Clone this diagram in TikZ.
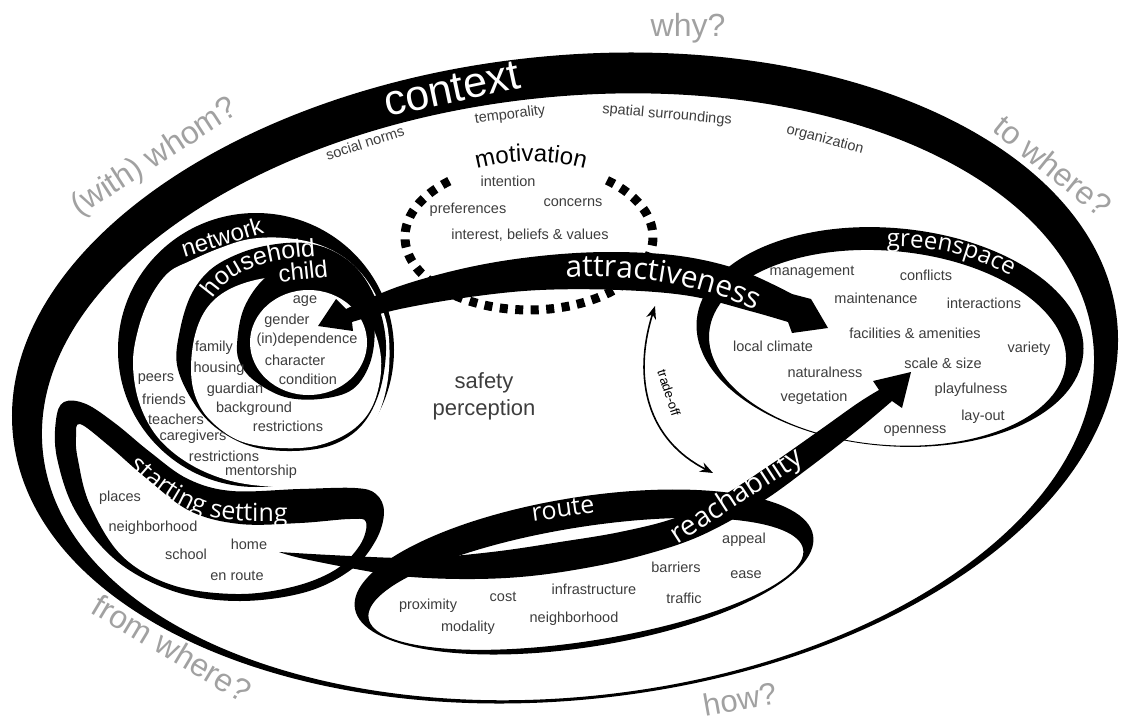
\documentclass[tikz,border=0pt]{standalone}
\usepackage{fontspec}
\setmainfont{Liberation Sans}
\newfontfamily\bandfont{Open Sans}
\usetikzlibrary{decorations.text,arrows.meta}
\tikzset{
  lbl/.style={font=\fontsize{14.5}{17}\selectfont, text=black!76, inner sep=0pt},
  qlbl/.style={font=\fontsize{32}{35}\selectfont, text=black!37, inner sep=0pt},
  wlbl/.style={text=white, inner sep=0pt},
  dotline/.style={line width=9pt, dash pattern=on 8pt off 7.5pt},
  tradearrow/.style={line width=1.6pt, {Stealth[length=13pt,width=10pt]}-{Stealth[length=13pt,width=10pt]}},
}
\begin{document}
\begin{tikzpicture}[x=1pt,y=-1pt]
\useasboundingbox (0,0) rectangle (1121,725);
% context ring
\fill[even odd rule, rotate around={6:(565,378)}] (565,378) ellipse [x radius=555, y radius=322] (566,397) ellipse [x radius=528, y radius=300];
% motivation (dotted), split so that every visible end begins with a dot
\draw[dotline] (607.0,180.3) arc[start angle=309, end angle=385, x radius=124, y radius=73];
\draw[dotline] (449.3,181.1) arc[start angle=230, end angle=135, x radius=124, y radius=73];
\draw[dotline] (441.3,288.6) arc[start angle=135, end angle=25, x radius=124, y radius=73];
% network / household / child
\fill (256,350) ellipse [x radius=138, y radius=137];
\fill[white] plot[smooth cycle, tension=0.6] coordinates {(133,365) (138,330) (150,298) (168,273) (190,261) (220,248) (250,239) (285,238) (320,245) (350,262) (373,290) (388,330) (387,385) (370,430) (335,467) (290,485) (240,483) (195,467) (160,440) (140,405)};
\fill plot[smooth cycle, tension=0.6] coordinates {(177,365) (180,330) (191,295) (210,270) (238,254) (270,245) (305,243) (335,252) (360,272) (378,305) (386,345) (380,390) (362,425) (332,445) (292,451) (250,446) (215,427) (192,400)};
\fill[white] plot[smooth cycle, tension=0.6] coordinates {(191,370) (195,335) (207,308) (228,290) (260,279) (300,276) (340,288) (368,318) (381,358) (375,400) (355,428) (320,445) (280,448) (240,441) (211,421) (196,398)};
\fill plot[smooth cycle, tension=0.6] coordinates {(237,345) (244,308) (266,277) (300,259) (336,262) (362,284) (374,320) (371,360) (353,389) (320,399) (285,397) (256,382) (241,365)};
\fill[white] (308.5,342.5) ellipse [x radius=58.5, y radius=52.5];
% starting setting loop
\fill[even odd rule] plot[smooth cycle, tension=0.6] coordinates {(64,402) (86,404) (116,424) (150,452) (188,479) (232,491) (300,489) (355,488) (376,494) (384,512) (376,540) (352,569) (306,592) (240,601) (176,592) (118,562) (76,512) (57,458) (56,420)}
  plot[smooth cycle, tension=0.6] coordinates {(80,424) (108,445) (146,478) (190,511) (240,524) (300,523) (350,519) (366,522) (360,545) (335,570) (292,587) (236,594) (172,585) (122,556) (90,505) (78,460) (76,437)};
% route ring
\fill[even odd rule, rotate around={9:(584,572)}] (584,572) ellipse [x radius=232, y radius=75] (584,584) ellipse [x radius=220, y radius=57];
% greenspace ring
\fill[even odd rule, rotate around={-5:(890,337)}] (890,337) ellipse [x radius=194, y radius=109] (888.5,348) ellipse [x radius=179, y radius=97];
% home -> reachability swoosh
\fill plot[smooth, tension=0.6] coordinates {(279,552) (330,555) (400,558) (440,557) (500,551) (560,542) (620,532) (675,518) (722,496) (770,465) (820,430) (858,403) (879,390)} -- (873,381) -- (911,372) -- (902,408) -- plot[smooth, tension=0.6] coordinates {(892,401) (860,428) (810,467) (760,503) (700,536) (640,556) (580,569) (520,577) (460,579) (400,576) (350,568) (300,558) (279,552)} -- cycle;
% attractiveness double arrow
\fill plot[smooth, tension=0.6] coordinates {(346,309) (400,286) (470,267) (540,256) (610,252) (680,256) (740,270) (792,294)} -- (811,299) -- (828,328) -- (792,333) -- plot[smooth, tension=0.6] coordinates {(788,322) (750,311) (690,296) (620,290) (540,290) (470,297) (400,309) (352,322)} -- (353,331) -- (318,326) -- (336,299) -- cycle;
% trade-off
\coordinate (tA) at (655,306);
\coordinate (tB) at (713,473);
\draw[tradearrow] (tA) .. controls (632,380) and (648,440) .. (tB);
\node[inner sep=0pt, font=\fontsize{13}{15}\selectfont, rotate=-72] (trade) at (669,393) {trade-off};

% band labels
\node[wlbl, font=\fontsize{43}{45}\selectfont, rotate=12] (ctx) at (452,89) {context};
\node[wlbl, font=\fontsize{24}{26}\selectfont, rotate=17] (net) at (222,237) {network};
\node[wlbl, font=\fontsize{24}{26}\selectfont, rotate=6] (ch) at (303,271) {child};
\node[wlbl, font=\bandfont\fontsize{28}{30}\selectfont, rotate=33] (reach) at (737,497) {reachability};
\node[wlbl, font=\bandfont\fontsize{25}{27}\selectfont, rotate=8] (rt) at (563,509) {route};
\path[decorate, decoration={text along path, text color=white, text align=center,
  text={|\fontsize{25}{25}\selectfont|household}}]
  (210,303) .. controls (227,273) and (257,259) .. (321,256);
\path[decorate, decoration={text along path, text color=white, text align=center,
  text={|\bandfont\fontsize{30}{30}\selectfont|attractiveness}}]
  (548,279) .. controls (620,272) and (700,280) .. (772,318);
\path[decorate, decoration={text along path, text color=white, text align=center,
  text={|\bandfont\fontsize{24}{24}\selectfont|greenspace}}]
  (870,248) .. controls (930,243) and (980,255) .. (1025,285);
\path[decorate, decoration={text along path, text color=white, text align=left,
  text={|\bandfont\fontsize{25}{25}\selectfont|starting setting}}]
  (129,466) .. controls (166,501) and (196,521) .. (251,521) -- (330,521);
\path[decorate, decoration={text along path, text align=center,
  text={|\fontsize{24}{24}\selectfont|motivation}}]
  (466,172) .. controls (505,158) and (555,158) .. (596,172);

% question labels
\node[qlbl] (why) at (688,28) {why?};
\node[qlbl, rotate=33] (whom) at (155,158) {(with) whom?};
\node[qlbl, rotate=-39] (towhere) at (1053,166) {to where?};
\node[qlbl, rotate=-31] (fromwhere) at (172,648) {from where?};
\node[qlbl, font=\fontsize{31}{33}\selectfont, rotate=10] (how) at (740,699) {how?};

% context labels
\node[lbl, rotate=18] (c1) at (365,143) {social norms};
\node[lbl, rotate=7] (c2) at (510,115) {temporality};
\node[lbl, rotate=-5] (c3) at (667,115) {spatial surroundings};
\node[lbl, rotate=-15] (c4) at (825,140) {organization};
% motivation labels
\node[lbl] (m1) at (508,181) {intention};
\node[lbl] (m2) at (573,203) {concerns};
\node[lbl] (m3) at (468,210) {preferences};
\node[lbl] (m4) at (530,235) {interest, beliefs \& values};
% child labels
\node[lbl] (k1) at (305,301) {age};
\node[lbl] (k2) at (287,321) {gender};
\node[lbl] (k3) at (307,340) {(in)dependence};
\node[lbl] (k4) at (295,360) {character};
\node[lbl] (k5) at (308,379) {condition};
% household labels
\node[lbl] (h1) at (214,348) {family};
\node[lbl] (h2) at (219,369) {housing};
\node[lbl] (h3) at (235,390) {guardian};
\node[lbl] (h4) at (254,409) {background};
\node[lbl] (h5) at (288,426) {restrictions};
% network labels
\node[lbl] (n1) at (156,379) {peers};
\node[lbl] (n2) at (164,399) {friends};
\node[lbl] (n3) at (176,419) {teachers};
\node[lbl] (n4) at (193,437) {caregivers};
\node[lbl] (n5) at (224,456) {restrictions};
\node[lbl] (n6) at (261,472) {mentorship};
% starting setting labels
\node[lbl] (s1) at (120,498) {places};
\node[lbl] (s2) at (153,528) {neighborhood};
\node[lbl] (s3) at (186,554) {school};
\node[lbl] (s4) at (249,544) {home};
\node[lbl] (s5) at (237,576) {en route};
% route labels
\node[lbl] (r1) at (428,606) {proximity};
\node[lbl] (r2) at (503,597) {cost};
\node[lbl] (r3) at (468,628) {modality};
\node[lbl] (r4) at (594,589) {infrastructure};
\node[lbl] (r5) at (574,619) {neighborhood};
\node[lbl] (r6) at (676,567) {barriers};
\node[lbl] (r7) at (684,598) {traffic};
\node[lbl] (r8) at (746,575) {ease};
\node[lbl] (r9) at (744,540) {appeal};
% greenspace labels
\node[lbl] (g1) at (812,272) {management};
\node[lbl] (g2) at (926,275) {conflicts};
\node[lbl] (g3) at (876,298) {maintenance};
\node[lbl] (g4) at (984,303) {interactions};
\node[lbl] (g5) at (915,333) {facilities \& amenities};
\node[lbl] (g6) at (773,346) {local climate};
\node[lbl] (g7) at (1029,349) {variety};
\node[lbl] (g8) at (943,363) {scale \& size};
\node[lbl] (g9) at (825,372) {naturalness};
\node[lbl] (g10) at (971,390) {playfulness};
\node[lbl] (g11) at (814,398) {vegetation};
\node[lbl] (g12) at (983,417) {lay-out};
\node[lbl] (g13) at (915,431) {openness};
% centre
\node[inner sep=0pt, align=center, text=black!76, font=\fontsize{22}{27}\selectfont] (safety) at (484,396) {safety\\perception};
\end{tikzpicture}
\end{document}
